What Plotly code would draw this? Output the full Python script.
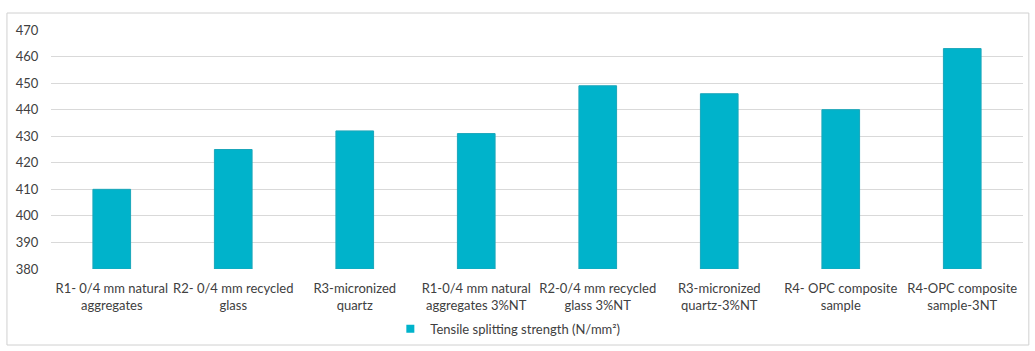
import plotly.graph_objects as go

categories = [
    "R1- 0/4 mm natural<br>aggregates",
    "R2- 0/4 mm recycled<br>glass",
    "R3-micronized<br>quartz",
    "R1-0/4 mm natural<br>aggregates 3%NT",
    "R2-0/4 mm recycled<br>glass 3%NT",
    "R3-micronized<br>quartz-3%NT",
    "R4- OPC composite<br>sample",
    "R4-OPC composite<br>sample-3NT",
]
strength = [410, 425, 432, 431, 449, 446, 440, 463]
series_name = "Tensile splitting strength (N/mm²)"
y_floor = 380
y_ticks = [380, 390, 400, 410, 420, 430, 440, 450, 460, 470]

bar_color = "#00B3CB"
font = dict(family="Lato, Carlito, Open Sans, sans-serif", size=13, color="#404040")

fig = go.Figure()
# bars rise from the axis floor
fig.add_trace(go.Bar(
    x=categories,
    y=[v - y_floor for v in strength],
    base=y_floor,
    name=series_name,
    marker=dict(color=bar_color, line=dict(color="#1AA6BA", width=1)),
    showlegend=False,
    hovertemplate="%{x}: %{customdata}<extra></extra>",
    customdata=strength,
))
# small square legend key for the series
fig.add_trace(go.Scatter(
    x=[None], y=[None], mode="markers", name=series_name,
    marker=dict(symbol="square", size=8, color=bar_color),
    showlegend=True,
))

fig.update_layout(
    width=1035, height=351,
    margin=dict(l=51, r=12, t=30, b=82, autoexpand=False),
    paper_bgcolor="white", plot_bgcolor="white",
    bargap=0.69,
    font=font,
    legend=dict(orientation="h", x=0.47, xanchor="center", yref="container",
                y=0.063, yanchor="middle", itemwidth=30,
                font=dict(size=13, color="#404040")),
    shapes=[dict(type="rect", xref="paper", yref="paper",
                 x0=-0.0453, x1=1.006, y0=-0.318, y1=1.071,
                 line=dict(color="#D0D0D0", width=1), layer="below")],
)
fig.update_xaxes(showline=False, showgrid=False, ticks="", tickfont=font,
                 ticklabelstandoff=10)
# invisible ticks keep the labels a little away from the grid
fig.update_yaxes(range=[y_floor, 470], tickvals=y_ticks, showgrid=True,
                 gridcolor="#D9D9D9", gridwidth=1, zeroline=False, showline=False,
                 ticks="outside", ticklen=9, tickcolor="rgba(0,0,0,0)",
                 tickfont=font)

fig.write_html("out.html")
